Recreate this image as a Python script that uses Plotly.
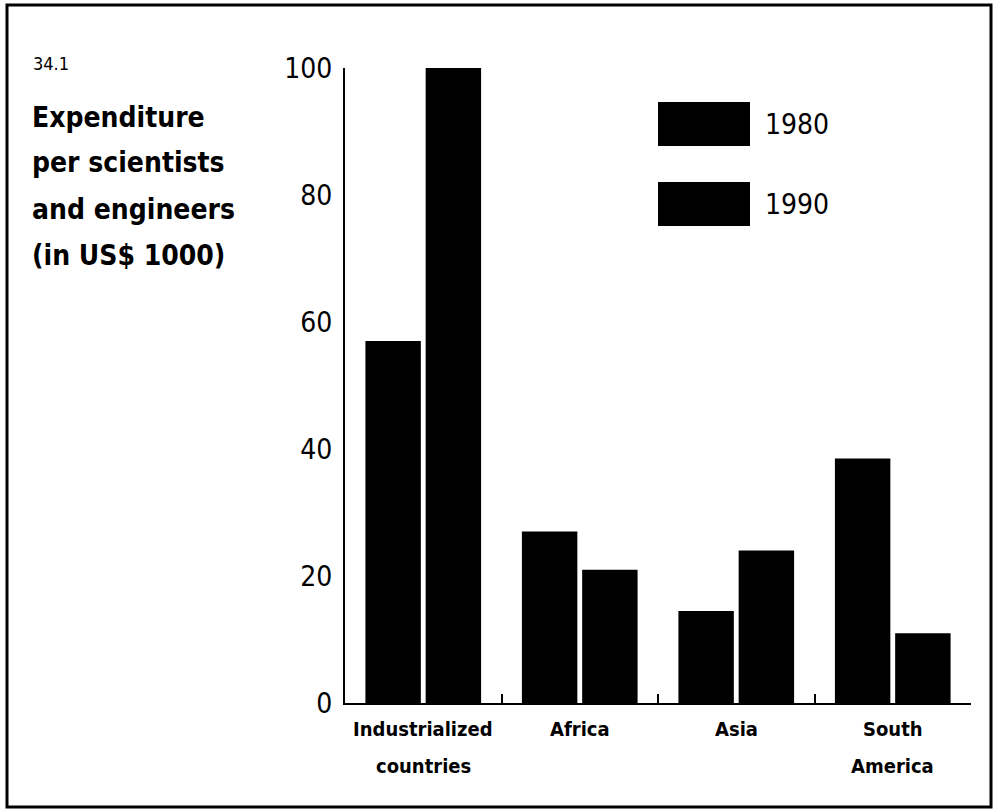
import plotly.graph_objects as go

# Expenditure per scientist/engineer, thousands of US$
regions = ["Industrialized countries", "Africa", "Asia", "South America"]
region_lines = [["Industrialized", "countries"], ["Africa"], ["Asia"], ["South", "America"]]
years = ["1980", "1990"]
spend_1980 = [57, 27, 14.5, 38.5]
spend_1990 = [100, 21, 24, 11]
y_ticks = [0, 20, 40, 60, 80, 100]
title_lines = ["Expenditure", "per scientists", "and engineers", "(in US$ 1000)"]

W, H = 994, 810
L, R, T, B = 345, 971, 68, 703  # plot area in pixels


def px(x):
    return (x - L) / (R - L)


def py(y):
    return (B - y) / (B - T)


NARROW = "'Liberation Sans Narrow', 'DejaVu Sans Condensed', 'Roboto Condensed', 'Arial Narrow', sans-serif"

fig = go.Figure()
for name, vals in zip(years, [spend_1980, spend_1990]):
    fig.add_trace(go.Bar(
        x=regions, y=vals, name=name,
        marker=dict(color="black", line=dict(width=0)),
        showlegend=False,
    ))

fig.update_layout(
    width=W, height=H,
    margin=dict(l=L, r=W - R, t=T, b=H - B),
    paper_bgcolor="white", plot_bgcolor="white",
    barmode="group", bargap=0.23, bargroupgap=0.08,
    font=dict(family=NARROW, color="black"),
)

fig.update_xaxes(
    showline=True, linecolor="black", linewidth=2,
    showgrid=False, zeroline=False, automargin=False,
    ticks="inside", tickson="boundaries", ticklen=9, tickwidth=2, tickcolor="black",
    showticklabels=False,
    range=[-0.5, 3.5],
)
fig.update_yaxes(
    range=[0, 100], tickvals=y_ticks, automargin=False,
    showline=True, linecolor="black", linewidth=2,
    showgrid=False, zeroline=False, ticks="",
    tickfont=dict(family=NARROW, size=28, color="black"),
    ticklabelstandoff=5,
)

# Category labels, one line each
for region, lines in zip(regions, region_lines):
    for i, line in enumerate(lines):
        fig.add_annotation(xref="x", yref="paper", x=region, y=py(729 + 37 * i),
                           text=f"<b>{line}</b>", showarrow=False,
                           xanchor="center", yanchor="middle",
                           font=dict(family=NARROW, size=20, color="black"))

# Legend drawn as swatches + labels
legend_rows = [(102, 146), (182, 226)]
for name, (y0, y1) in zip(years, legend_rows):
    fig.add_shape(type="rect", xref="paper", yref="paper",
                  x0=px(658), x1=px(750), y0=py(y1), y1=py(y0),
                  fillcolor="black", line=dict(width=0))
    fig.add_annotation(xref="paper", yref="paper", x=px(763), y=py((y0 + y1) / 2),
                       text=name, showarrow=False, xanchor="left", yanchor="middle",
                       font=dict(family=NARROW, size=28, color="black"))

# Figure number and title
fig.add_annotation(xref="paper", yref="paper", x=px(31), y=py(63),
                   text="34.1", showarrow=False, xanchor="left", yanchor="middle",
                   font=dict(family=NARROW, size=18, color="black"))
for i, line in enumerate(title_lines):
    fig.add_annotation(xref="paper", yref="paper", x=px(30), y=py(117 + 46 * i),
                       text=f"<b>{line}</b>", showarrow=False,
                       xanchor="left", yanchor="middle", align="left",
                       font=dict(family=NARROW, size=28, color="black"))

# Outer frame
fig.add_shape(type="rect", xref="paper", yref="paper",
              x0=px(7), x1=px(991), y0=py(807), y1=py(5),
              line=dict(color="black", width=3), fillcolor="rgba(0,0,0,0)")

fig.write_html("out.html")
